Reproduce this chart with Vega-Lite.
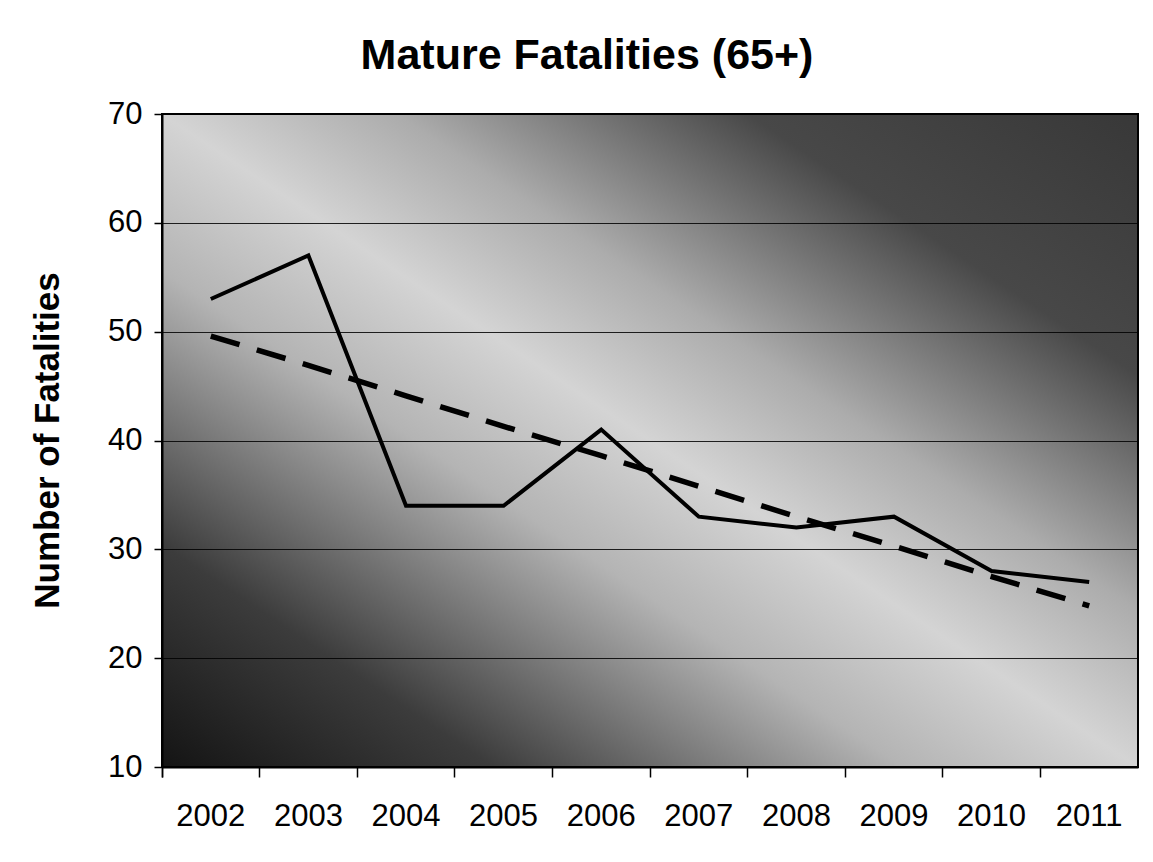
{
  "$schema": "https://vega.github.io/schema/vega-lite/v6.json",
  "width": 976,
  "height": 653,
  "autosize": "none",
  "padding": {"left": 162, "top": 114, "right": 15, "bottom": 95},
  "background": "white",
  "title": {
    "text": "Mature Fatalities (65+)",
    "font": "Liberation Sans",
    "fontSize": 43,
    "fontWeight": "bold",
    "color": "black",
    "anchor": "middle",
    "dx": -63,
    "dy": 56,
    "baseline": "alphabetic",
    "offset": 42
  },
  "data": {
    "values": [
      {"year": "2002", "fatalities": 53, "trend": 49.6},
      {"year": "2003", "fatalities": 57, "trend": 46.9},
      {"year": "2004", "fatalities": 34, "trend": 44.1},
      {"year": "2005", "fatalities": 34, "trend": 41.3},
      {"year": "2006", "fatalities": 41, "trend": 38.6},
      {"year": "2007", "fatalities": 33, "trend": 35.8},
      {"year": "2008", "fatalities": 32, "trend": 33.0},
      {"year": "2009", "fatalities": 33, "trend": 30.3},
      {"year": "2010", "fatalities": 28, "trend": 27.5},
      {"year": "2011", "fatalities": 27, "trend": 24.8}
    ]
  },
  "encoding": {
    "x": {
      "field": "year",
      "type": "ordinal",
      "bandPosition": 0.5,
      "scale": {"type": "band", "paddingInner": 0, "paddingOuter": 0},
      "axis": {
        "title": null,
        "bandPosition": 0,
        "tickExtra": true,
        "labelAngle": 0,
        "labelFont": "Liberation Sans",
        "labelFontSize": 31,
        "labelColor": "black",
        "labelBaseline": "alphabetic",
        "labelPadding": 48,
        "tickSize": 10,
        "tickColor": "black",
        "tickWidth": 1.5,
        "domainColor": "black",
        "domainWidth": 2,
        "grid": false
      }
    }
  },
  "layer": [
    {
      "mark": {"type": "line", "color": "black", "strokeWidth": 4},
      "encoding": {
        "y": {
          "field": "fatalities",
          "type": "quantitative",
          "scale": {"domain": [10, 70], "nice": false, "zero": false},
          "axis": {
            "values": [10, 20, 30, 40, 50, 60, 70],
            "title": "Number of Fatalities",
            "titleFont": "Liberation Sans",
            "titleFontSize": 35,
            "titleFontWeight": "bold",
            "titleColor": "black",
            "titleAngle": -90,
            "titleX": -104,
            "titleY": 326,
            "titleAlign": "center",
            "titleBaseline": "alphabetic",
            "labelFont": "Liberation Sans",
            "labelFontSize": 31,
            "labelColor": "black",
            "labelPadding": 12,
            "tickSize": 8,
            "tickColor": "black",
            "tickWidth": 1.5,
            "domainColor": "black",
            "domainWidth": 2,
            "grid": true,
            "gridColor": "black",
            "gridWidth": 1.2,
            "gridOpacity": 0.85
          }
        }
      }
    },
    {
      "mark": {"type": "line", "color": "black", "strokeWidth": 5.5, "strokeDash": [30, 18]},
      "encoding": {
        "y": {"field": "trend", "type": "quantitative"}
      }
    }
  ],
  "config": {
    "view": {
      "fill": {
        "gradient": "linear",
        "x1": 0, "y1": 1, "x2": 1, "y2": 0,
        "stops": [
          {"offset": 0, "color": "#141414"},
          {"offset": 0.17, "color": "#3c3c3c"},
          {"offset": 0.38, "color": "#b4b4b4"},
          {"offset": 0.5, "color": "#d4d4d4"},
          {"offset": 0.62, "color": "#acacac"},
          {"offset": 0.8, "color": "#484848"},
          {"offset": 1, "color": "#383838"}
        ]
      },
      "stroke": "black",
      "strokeWidth": 2
    }
  }
}
